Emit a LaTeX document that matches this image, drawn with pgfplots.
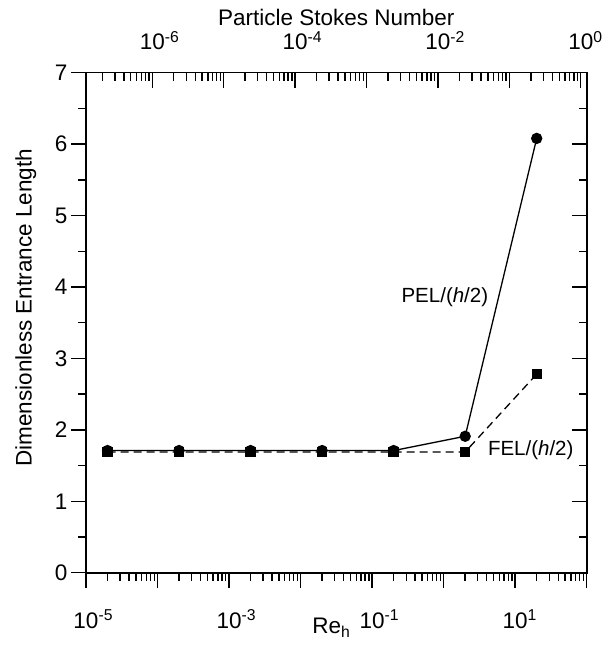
\documentclass[border=0pt]{standalone}
\usepackage{pgfplots}
\pgfplotsset{compat=1.18}
\usepackage{fontspec}
\setmainfont{Liberation Sans}
\begin{document}
\begin{tikzpicture}[font=\fontsize{22.5}{27}\selectfont]
\pgfplotsset{
  common/.style={scale only axis, width=500.7pt, height=500pt, ymin=0, ymax=7,
    major tick length=15pt, minor tick length=8pt,
    every tick/.style={black, line width=1.4pt},
    axis line style={line width=1.6pt},
    /pgf/number format/assume math mode=true},
}
\newcommand{\tl}[1]{\phantom{\textsuperscript{#1}}10\textsuperscript{#1}}
% main axis (Re_h)
\begin{axis}[common, name=main, xmode=log, xmin=1e-5, xmax=1e2,
  xtick={1e-5,1e-4,1e-3,1e-2,1e-1,1,10,100},
  xticklabels={\tl{-5},,\tl{-3},,\tl{-1},,\tl{1},},
  minor xtick={2e-5,3e-5,4e-5,5e-5,6e-5,7e-5,8e-5,9e-5,
    2e-4,3e-4,4e-4,5e-4,6e-4,7e-4,8e-4,9e-4,
    2e-3,3e-3,4e-3,5e-3,6e-3,7e-3,8e-3,9e-3,
    2e-2,3e-2,4e-2,5e-2,6e-2,7e-2,8e-2,9e-2,
    2e-1,3e-1,4e-1,5e-1,6e-1,7e-1,8e-1,9e-1,
    2,3,4,5,6,7,8,9,20,30,40,50,60,70,80,90},
  ytick={0,1,2,3,4,5,6,7},
  minor ytick={0.5,1.5,2.5,3.5,4.5,5.5,6.5},
  xtick pos=lower, ytick pos=left, tick align=outside,
  xticklabel style={anchor=base, yshift=-40.3pt},
  yticklabel style={anchor=east},
  xlabel={Re\textsubscript{h}},
  xlabel style={at={(axis description cs:0.49,-0.121)}, anchor=base},
  ylabel={Dimensionless Entrance Length},
  ylabel style={at={(axis description cs:-0.12,0.53)}, anchor=center},
  clip=false,
]
\addplot[black, line width=1.3pt, mark=*, mark size=5pt] coordinates {
  (2e-5,1.71) (2e-4,1.71) (2e-3,1.71) (2e-2,1.71) (2e-1,1.71) (2,1.91) (20,6.08)};
\addplot[black, line width=1.3pt, dash pattern=on 8pt off 5pt, mark=square*, mark size=4.5pt,
  mark options={solid}] coordinates {
  (2e-5,1.69) (2e-4,1.69) (2e-3,1.69) (2e-2,1.69) (2e-1,1.69) (2,1.69) (20,2.78)};
\node[font=\fontsize{20.5}{24}\selectfont] at (axis cs:1.04,3.853) {PEL/(\textit{h}/2)};
\node[font=\fontsize{20.5}{24}\selectfont] at (axis cs:16.5,1.718) {FEL/(\textit{h}/2)};
\coordinate (bl) at (rel axis cs:0,0);
\coordinate (tr) at (rel axis cs:1,1);
\end{axis}
% top axis (Stokes number)
\begin{axis}[common, xmode=log, xmin=1.18e-7, xmax=1.21,
  axis x line*=top, axis y line=none,
  xtick={1e-6,1e-5,1e-4,1e-3,1e-2,1e-1,1},
  xticklabels={\tl{-6},,\tl{-4},,\tl{-2},,\tl{0}},
  minor xtick={2e-7,3e-7,4e-7,5e-7,6e-7,7e-7,8e-7,9e-7,
    2e-6,3e-6,4e-6,5e-6,6e-6,7e-6,8e-6,9e-6,
    2e-5,3e-5,4e-5,5e-5,6e-5,7e-5,8e-5,9e-5,
    2e-4,3e-4,4e-4,5e-4,6e-4,7e-4,8e-4,9e-4,
    2e-3,3e-3,4e-3,5e-3,6e-3,7e-3,8e-3,9e-3,
    2e-2,3e-2,4e-2,5e-2,6e-2,7e-2,8e-2,9e-2,
    2e-1,3e-1,4e-1,5e-1,6e-1,7e-1,8e-1,9e-1},
  tick align=inside,
  xticklabel style={anchor=base, yshift=23pt},
  xlabel={Particle Stokes Number},
  xlabel style={at={(axis description cs:0.5,1.094)}, anchor=base},
]
\end{axis}
% right axis
\begin{axis}[common, xmin=0, xmax=1, axis x line=none, axis y line*=right,
  ytick={0,1,2,3,4,5,6,7},
  minor ytick={0.5,1.5,2.5,3.5,4.5,5.5,6.5},
  yticklabels={}, tick align=inside]
\end{axis}
\pgfresetboundingbox
\path[use as bounding box] ([xshift=-86pt,yshift=-72.3pt]bl) rectangle ([xshift=16.3pt,yshift=72.7pt]tr);
\end{tikzpicture}
\end{document}
